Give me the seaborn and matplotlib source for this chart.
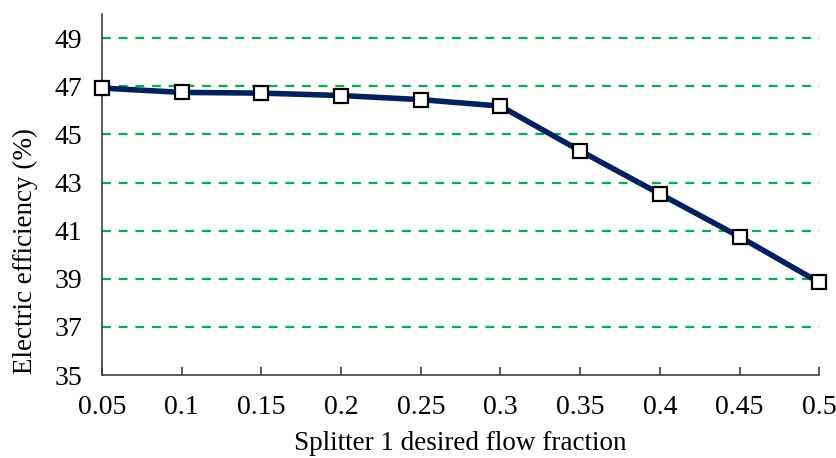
import matplotlib
matplotlib.use('Agg')
import matplotlib.pyplot as plt
import seaborn as sns
import pandas as pd

# data
flow_fraction = [0.05, 0.1, 0.15, 0.2, 0.25, 0.3, 0.35, 0.4, 0.45, 0.5]
efficiency = [46.93, 46.75, 46.72, 46.62, 46.45, 46.18, 44.32, 42.53, 40.75, 38.85]
x_labels = ['0.05', '0.1', '0.15', '0.2', '0.25', '0.3', '0.35', '0.4', '0.45', '0.5']
y_ticks = [35, 37, 39, 41, 43, 45, 47, 49]

df = pd.DataFrame({'fraction': flow_fraction, 'eff': efficiency})

sns.set_style('white')
plt.rcParams['font.family'] = ['Liberation Serif', 'DejaVu Serif']

fig = plt.figure(figsize=(8.36, 4.58), dpi=100)
ax = fig.add_axes([0.122, 0.181, 0.858, 0.788])

# green dashed grid lines
for yv in y_ticks[1:]:
    ax.axhline(yv, color='#00B050', linestyle=(0, (4, 3.5)), linewidth=1.6, zorder=1)

sns.lineplot(data=df, x='fraction', y='eff', ax=ax, color='#002060', linewidth=4,
             marker='s', markersize=10, markerfacecolor='white',
             markeredgecolor='black', markeredgewidth=1.6, zorder=3, clip_on=False)

ax.set_xlim(0.05, 0.5)
ax.set_ylim(35, 50)
ax.set_xticks(flow_fraction)
ax.set_xticklabels(x_labels)
ax.set_yticks(y_ticks)

for s in ['top', 'right']:
    ax.spines[s].set_visible(False)
for s in ['left', 'bottom']:
    ax.spines[s].set_color('#404040')
    ax.spines[s].set_linewidth(1.2)

ax.tick_params(axis='x', direction='in', length=6, width=1.2, color='#404040',
               labelsize=20, pad=14, bottom=True, labelcolor='black')
ax.tick_params(axis='y', length=0, labelsize=20, pad=14, labelcolor='black')

ax.set_xlabel('Splitter 1 desired flow fraction', fontsize=19.5, labelpad=8, color='black')
ax.set_ylabel('Electric efficiency (%)', fontsize=19.5, labelpad=12, color='black', y=0.345)

fig.savefig('out.png', dpi=100)
